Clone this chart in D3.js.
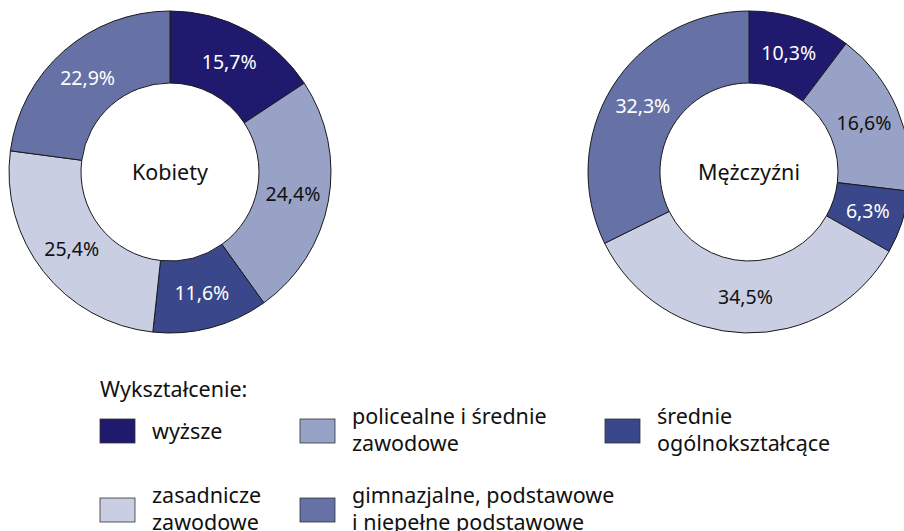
<!DOCTYPE html>
<html>
<head>
<meta charset="utf-8">
<script src="https://cdn.jsdelivr.net/npm/d3@7"></script>
<style>
  body { margin: 0; background: #fff; }
  svg { display: block; font-family: "Noto Sans", sans-serif; }
</style>
</head>
<body>
<div id="chart"></div>
<script>
// kategorie wyksztalcenia
var categories = ["wyższe", "policealne i średnie zawodowe", "średnie ogólnokształcące", "zasadnicze zawodowe", "gimnazjalne, podstawowe i niepełne podstawowe"];
var legendLines = [["wyższe"], ["policealne i średnie", "zawodowe"], ["średnie", "ogólnokształcące"], ["zasadnicze", "zawodowe"], ["gimnazjalne, podstawowe", "i niepełne podstawowe"]];
var colors = ["#1f1a6e", "#98a2c6", "#3a478a", "#c9cee2", "#6672a6"];
var labelColors = ["#fff", "#111", "#fff", "#111", "#fff"];
var groups = ["Kobiety", "Mężczyźni"];
var kobiety = [15.7, 24.4, 11.6, 25.4, 22.9];
var mezczyzni = [10.3, 16.6, 6.3, 34.5, 32.3];

var width = 904, height = 531;
var svg = d3.select("#chart").append("svg")
  .attr("width", width)
  .attr("height", height);

var outerR = 161, innerR = 89;
var pie = d3.pie().sort(null).value(function(d){ return d; });
var arc = d3.arc().innerRadius(innerR).outerRadius(outerR);
var labelArc = d3.arc().innerRadius(125).outerRadius(125);

function fmt(v){ return v.toFixed(1).replace(".", ",") + "%"; }

function donut(values, name, cx, cy){
  var g = svg.append("g").attr("transform", "translate(" + cx + "," + cy + ")");
  var arcs = pie(values);
  g.selectAll("path").data(arcs).enter().append("path")
    .attr("d", arc)
    .attr("fill", function(d, i){ return colors[i]; })
    .attr("stroke", "#1a1a1a")
    .attr("stroke-width", 1);
  g.selectAll("text.val").data(arcs).enter().append("text")
    .attr("class", "val")
    .attr("transform", function(d){ return "translate(" + labelArc.centroid(d) + ")"; })
    .attr("text-anchor", "middle")
    .attr("dy", "0.35em")
    .attr("font-size", 19.5)
    .attr("fill", function(d, i){ return labelColors[i]; })
    .text(function(d){ return fmt(d.data); });
  g.append("text")
    .attr("text-anchor", "middle")
    .attr("dy", "0.35em")
    .attr("font-size", 21.5)
    .attr("fill", "#111")
    .text(name);
}

donut(kobiety, groups[0], 170, 172);
donut(mezczyzni, groups[1], 749, 172);

// legenda
var legend = svg.append("g");
legend.append("text")
  .attr("x", 100).attr("y", 397)
  .attr("font-size", 21.5)
  .attr("fill", "#111")
  .text("Wykształcenie:");

var legendX = [100, 300, 605, 100, 300];
var legendY = [419, 419, 419, 498, 498];
categories.forEach(function(c, i){
  var item = legend.append("g").attr("transform", "translate(" + legendX[i] + "," + legendY[i] + ")");
  item.append("rect")
    .attr("width", 35).attr("height", 24)
    .attr("fill", colors[i])
    .attr("stroke", "#333")
    .attr("stroke-width", 0.8);
  var t = item.append("text")
    .attr("x", 52)
    .attr("font-size", 21.5)
    .attr("fill", "#111");
  var lines = legendLines[i];
  var y0 = lines.length == 1 ? 12 : -3;
  lines.forEach(function(l, k){
    t.append("tspan").attr("x", 52).attr("y", y0 + k * 27).attr("dy", "0.35em").text(l);
  });
});
</script>
</body>
</html>
